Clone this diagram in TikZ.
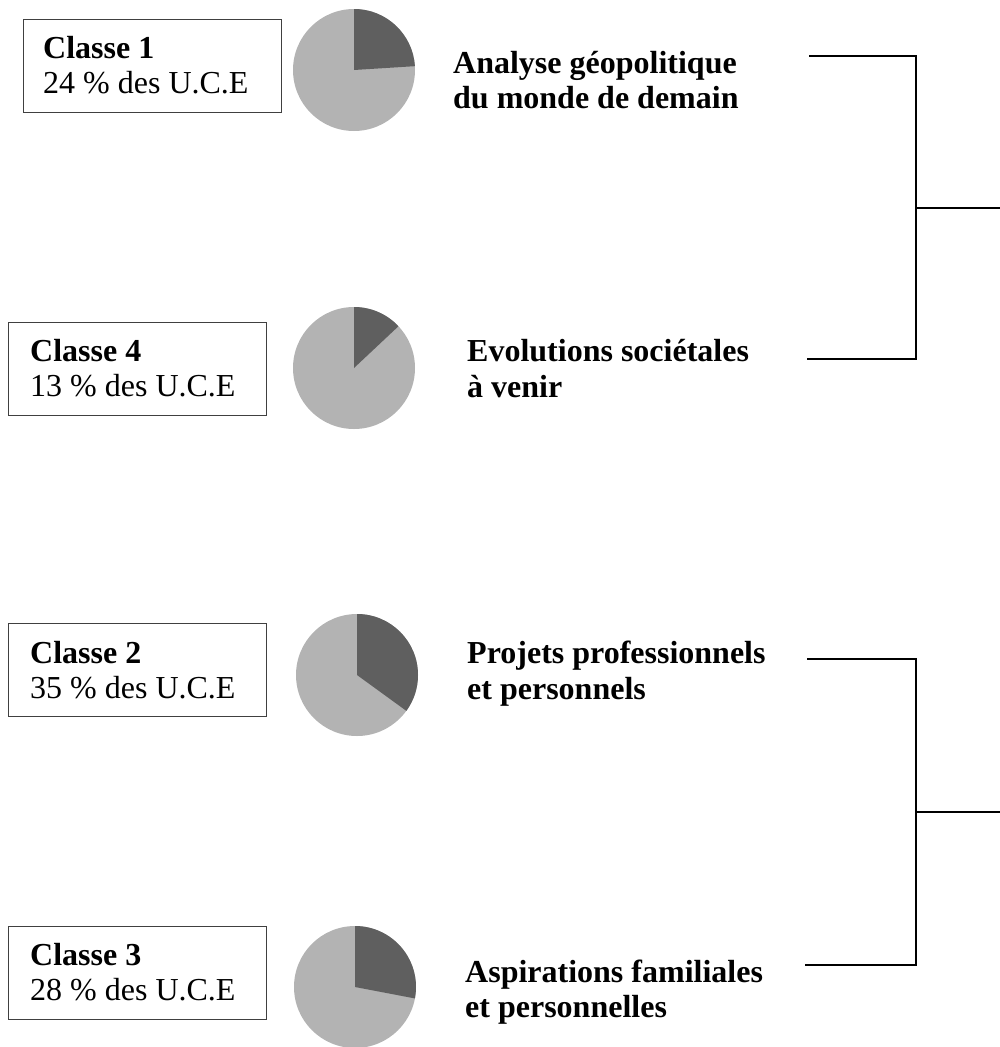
\documentclass[tikz,border=0pt]{standalone}
\usepackage{fontspec}
\setmainfont{Liberation Serif}
\definecolor{piedark}{HTML}{5F5F5F}
\definecolor{pielight}{HTML}{B3B3B3}
\definecolor{boxline}{HTML}{404040}
\begin{document}
\begin{tikzpicture}[x=1pt,y=-1pt,
  classbox/.style={draw=boxline,line width=1.3pt,minimum width=258pt,minimum height=93pt,anchor=north west,inner sep=0pt},
  txt/.style={anchor=base west,inner sep=0pt,font=\fontsize{32}{35}\selectfont},
  bracket/.style={line width=2pt,line cap=rect}]
\useasboundingbox (0,0) rectangle (1000,1047);
\newcommand{\twolines}[2]{\begin{tabular}[t]{@{}l@{}}#1\\#2\end{tabular}}
\newcommand{\piechart}[3]{%
  \fill[pielight] (#1,#2) circle[radius=61];
  \fill[piedark] (#1,#2) -- ++(-90:61) arc[start angle=-90,end angle={-90+#3*3.6},radius=61] -- cycle;}
% boxes
\node[classbox] (b1) at (23,19) {};
\node[txt] (t1) at (43,58) {\twolines{\textbf{Classe 1}}{24 \% des U.C.E}};
\node[classbox] (b4) at (8,322) {};
\node[txt] (t4) at (30,361) {\twolines{\textbf{Classe 4}}{13 \% des U.C.E}};
\node[classbox] (b2) at (8,623) {};
\node[txt] (t2) at (30,663) {\twolines{\textbf{Classe 2}}{35 \% des U.C.E}};
\node[classbox] (b3) at (8,926) {};
\node[txt] (t3) at (30,965) {\twolines{\textbf{Classe 3}}{28 \% des U.C.E}};
% pies
\piechart{354}{70}{24}
\piechart{354}{368}{13}
\piechart{357}{675}{35}
\piechart{355}{987}{28}
% labels
\node[txt,font=\fontsize{32}{35}\selectfont\bfseries] (l1) at (453,73) {\twolines{Analyse géopolitique}{du monde de demain}};
\node[txt,font=\fontsize{32}{36}\selectfont\bfseries] (l4) at (467,361) {\twolines{Evolutions sociétales}{à venir}};
\node[txt,font=\fontsize{32}{36}\selectfont\bfseries] (l2) at (467,663) {\twolines{Projets professionnels}{et personnels}};
\node[txt,font=\fontsize{32}{35}\selectfont\bfseries] (l3) at (465,982) {\twolines{Aspirations familiales}{et personnelles}};
% bracket coordinates
\coordinate (a1) at (810,56);
\coordinate (a4) at (808,359);
\coordinate (j1) at (916,208);
\coordinate (e1) at (1000,208);
\coordinate (a2) at (808,659);
\coordinate (a3) at (806,965);
\coordinate (j2) at (916,812);
\coordinate (e2) at (1000,812);
\draw[bracket] (a1) -| (j1) |- (a4);
\draw[bracket] (j1) -- (e1);
\draw[bracket] (a2) -| (j2) |- (a3);
\draw[bracket] (j2) -- (e2);
\end{tikzpicture}
\end{document}
